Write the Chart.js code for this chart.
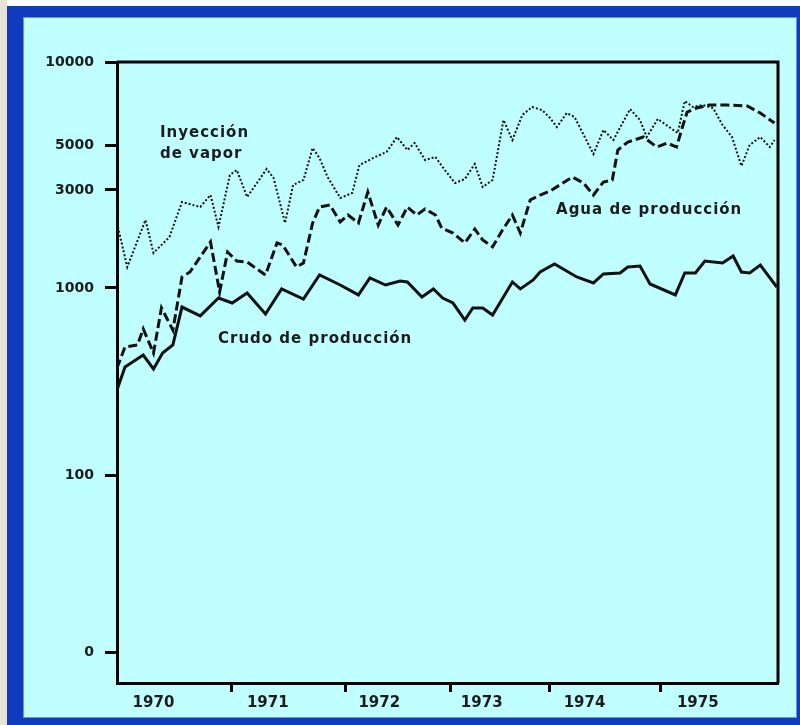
<!DOCTYPE html>
<html>
<head>
<meta charset="utf-8">
<script src="https://cdn.jsdelivr.net/npm/chart.js@4.4.1/dist/chart.umd.min.js"></script>
<style>
  body { margin: 0; background: #fff; }
  canvas { display: block; }
</style>
</head>
<body>
<canvas id="chart" width="800" height="725"></canvas>
<script>
// readings taken off the plot, x in decimal years
const crudoX = [1970.00, 1970.07, 1970.23, 1970.32, 1970.40, 1970.49, 1970.57, 1970.73, 1970.89, 1971.01,
  1971.14, 1971.30, 1971.44, 1971.63, 1971.77, 1971.95, 1972.12, 1972.23, 1972.38, 1972.52,
  1972.59, 1972.73, 1972.84, 1972.93, 1973.03, 1973.15, 1973.23, 1973.33, 1973.43, 1973.63,
  1973.71, 1973.84, 1973.91, 1974.05, 1974.25, 1974.40, 1974.49, 1974.64, 1974.71, 1974.82,
  1974.91, 1975.13, 1975.21, 1975.30, 1975.38, 1975.53, 1975.62, 1975.69, 1975.76, 1975.85, 1975.99];
const crudoY = [285, 378, 438, 369, 449, 496, 791, 709, 884, 831,
  940, 726, 988, 873, 1157, 1034, 918, 1119, 1034, 1082,
  1070, 895, 988, 884, 831, 674, 782, 782, 717, 1070,
  988, 1094, 1196, 1309, 1131, 1058, 1170, 1183, 1265, 1280,
  1046, 918, 1183, 1183, 1353, 1323, 1431, 1196, 1183, 1294, 1011];

const aguaX = [1970.00, 1970.07, 1970.18, 1970.23, 1970.32, 1970.39, 1970.49, 1970.57, 1970.64, 1970.82,
  1970.90, 1970.97, 1971.05, 1971.14, 1971.30, 1971.40, 1971.45, 1971.57, 1971.63, 1971.71,
  1971.77, 1971.86, 1971.95, 1972.02, 1972.12, 1972.21, 1972.31, 1972.39, 1972.50, 1972.59,
  1972.68, 1972.76, 1972.86, 1972.92, 1973.03, 1973.15, 1973.25, 1973.33, 1973.43, 1973.53,
  1973.63, 1973.71, 1973.81, 1973.91, 1974.01, 1974.21, 1974.31, 1974.40, 1974.49, 1974.57,
  1974.62, 1974.71, 1974.85, 1974.97, 1975.06, 1975.14, 1975.19, 1975.23, 1975.31, 1975.42,
  1975.57, 1975.74, 1975.85, 1975.97];
const aguaY = [373, 484, 496, 604, 449, 782, 596, 1131, 1196, 1675,
  952, 1497, 1353, 1338, 1157, 1656, 1619, 1265, 1323, 2072,
  2480, 2535, 2096, 2266, 2072, 2933, 2026, 2480, 2026, 2480,
  2266, 2424, 2266, 1959, 1852, 1656, 1938, 1713, 1584, 1916,
  2266, 1852, 2681, 2836, 2966, 3476, 3247, 2836, 3285, 3360,
  4724, 5127, 5346, 4888, 5085, 4888, 5810, 6585, 6811, 6982,
  6982, 6924, 6531, 6008];

const vaporX = [1970.00, 1970.09, 1970.25, 1970.32, 1970.46, 1970.57, 1970.73, 1970.82, 1970.89, 1970.99,
  1971.05, 1971.14, 1971.31, 1971.37, 1971.47, 1971.54, 1971.63, 1971.71, 1971.77, 1971.84,
  1971.95, 1972.06, 1972.13, 1972.28, 1972.39, 1972.49, 1972.59, 1972.66, 1972.76, 1972.86,
  1972.95, 1973.05, 1973.15, 1973.25, 1973.33, 1973.43, 1973.54, 1973.63, 1973.73, 1973.83,
  1973.93, 1974.01, 1974.07, 1974.16, 1974.23, 1974.40, 1974.49, 1974.58, 1974.73, 1974.82,
  1974.88, 1974.98, 1975.15, 1975.21, 1975.28, 1975.36, 1975.45, 1975.53, 1975.61, 1975.69,
  1975.76, 1975.85, 1975.93, 1975.97];
const vaporY = [2070, 1265, 2143, 1481, 1771, 2621, 2480, 2836, 1982, 3556,
  3765, 2773, 3807, 3438, 2072, 3175, 3360, 4834, 4314, 3476,
  2742, 2900, 3985, 4363, 4618, 5346, 4724, 5085, 4217, 4363,
  3765, 3247, 3399, 4030, 3103, 3360, 6160, 5213, 6424, 6868,
  6695, 6265, 5810, 6531, 6318, 4514, 5668, 5213, 6752, 6160,
  5346, 6213, 5527, 7219, 6868, 6982, 6811, 5908, 5346, 3939,
  5000, 5346, 4888, 5213];

const years = [1970, 1971, 1972, 1973, 1974, 1975];
const yTicks = [10, 100, 1000, 3000, 5000, 10000];

const notes = [
  { text: 'Inyección', x: 1970.377, y: 5527 },
  { text: 'de vapor', x: 1970.377, y: 4514 },
  { text: 'Agua de producción', x: 1974.063, y: 2398 },
  { text: 'Crudo de producción', x: 1970.886, y: 534 },
];

// the original axes are drawn by hand: years and decades are not evenly spaced
const xAnchors = [1970, 1971, 1972, 1973, 1974, 1975, 1976];
const xFractions = [0, 0.1725, 0.3464, 0.5038, 0.6536, 0.8215, 1];
const yAnchors = [6.7, 10, 100, 1000, 3000, 5000, 10000];
const yFractions = [0, 0.0499, 0.3349, 0.6361, 0.7939, 0.8663, 1];
const yLogs = yAnchors.map(Math.log10);

function interp(v, from, to) {
  let i = 0;
  while (i < from.length - 2 && v > from[i + 1]) i++;
  const t = (v - from[i]) / (from[i + 1] - from[i]);
  return to[i] + t * (to[i + 1] - to[i]);
}

class UnevenLinear extends Chart.LinearScale {
  static id = 'unevenLinear';
  getPixelForValue(v) {
    return this.getPixelForDecimal(interp(v, xAnchors, xFractions));
  }
  getValueForPixel(p) {
    return interp(this.getDecimalForPixel(p), xFractions, xAnchors);
  }
}

class UnevenLog extends Chart.LogarithmicScale {
  static id = 'unevenLog';
  getPixelForValue(v) {
    return this.getPixelForDecimal(interp(Math.log10(v), yLogs, yFractions));
  }
  getValueForPixel(p) {
    return Math.pow(10, interp(this.getDecimalForPixel(p), yFractions, yLogs));
  }
}

Chart.register(UnevenLinear, UnevenLog);

const toPoints = (xs, ys) => xs.map((x, i) => ({ x: x, y: ys[i] }));

const LABEL_SHIFT = 0.32; // year labels sit a bit right of each tick
const xTickValues = [];
years.forEach(y => {
  if (y > 1970) xTickValues.push(y);
  xTickValues.push(y + LABEL_SHIFT);
});

// page frame: blue border around a light cyan sheet
const framePlugin = {
  id: 'frame',
  beforeDraw(chart) {
    const ctx = chart.ctx;
    ctx.save();
    ctx.fillStyle = '#ffffff';
    ctx.fillRect(0, 0, 800, 725);
    ctx.fillStyle = '#e7e3d6';
    ctx.fillRect(0, 0, 7, 725);
    ctx.fillStyle = '#0f3bbf';
    ctx.fillRect(7, 6, 793, 719);
    ctx.fillStyle = '#c0ffff';
    ctx.fillRect(23, 17, 774, 701);
    ctx.strokeStyle = '#6f8ee6';
    ctx.lineWidth = 1;
    ctx.strokeRect(23.5, 17.5, 773, 700);
    ctx.restore();
  },
  afterDraw(chart) {
    const { ctx, chartArea } = chart;
    ctx.save();
    ctx.strokeStyle = '#000';
    ctx.lineWidth = 3;
    ctx.beginPath();
    ctx.moveTo(chartArea.left, chartArea.top);
    ctx.lineTo(chartArea.right, chartArea.top);
    ctx.lineTo(chartArea.right, chartArea.bottom);
    ctx.stroke();
    ctx.restore();
  }
};

const notesPlugin = {
  id: 'notes',
  afterDatasetsDraw(chart) {
    const { ctx, scales } = chart;
    ctx.save();
    ctx.font = 'bold 15px "DejaVu Sans"';
    ctx.letterSpacing = '1px';
    ctx.fillStyle = '#1c1c1c';
    ctx.textAlign = 'left';
    ctx.textBaseline = 'middle';
    notes.forEach(n => {
      ctx.fillText(n.text, scales.x.getPixelForValue(n.x), scales.y.getPixelForValue(n.y));
    });
    ctx.restore();
  }
};

new Chart(document.getElementById('chart'), {
  type: 'line',
  data: {
    datasets: [
      {
        label: 'Crudo de producción',
        data: toPoints(crudoX, crudoY),
        borderColor: '#111',
        borderWidth: 3,
      },
      {
        label: 'Agua de producción',
        data: toPoints(aguaX, aguaY),
        borderColor: '#111',
        borderWidth: 3,
        borderDash: [9, 4],
      },
      {
        label: 'Inyección de vapor',
        data: toPoints(vaporX, vaporY),
        borderColor: '#111',
        borderWidth: 2,
        borderDash: [2, 2],
      },
    ],
  },
  options: {
    responsive: false,
    animation: false,
    parsing: true,
    elements: {
      point: { radius: 0 },
      line: { tension: 0, fill: false, borderCapStyle: 'butt' },
    },
    layout: { padding: { top: 62, right: 22, left: 0, bottom: 0 } },
    plugins: {
      legend: { display: false },
      tooltip: { enabled: false },
    },
    scales: {
      x: {
        type: 'unevenLinear',
        min: 1970,
        max: 1976,
        afterBuildTicks: s => { s.ticks = xTickValues.map(v => ({ value: v })); },
        afterFit: s => { s.height = 42; },
        ticks: {
          autoSkip: false,
          maxRotation: 0,
          padding: 2,
          color: '#1c1c1c',
          font: { family: 'DejaVu Sans', size: 15, weight: 'bold' },
          callback: v => Number.isInteger(v) ? '' : String(Math.floor(v)),
        },
        grid: {
          drawOnChartArea: false,
          tickLength: 9,
          tickWidth: 3,
          tickColor: c => Number.isInteger(c.tick.value) ? '#000' : 'rgba(0,0,0,0)',
        },
        border: { color: '#000', width: 3 },
      },
      y: {
        type: 'unevenLog',
        min: 6.7,
        max: 10000,
        afterBuildTicks: s => { s.ticks = yTicks.map(v => ({ value: v })); },
        afterFit: s => { s.width = 117; },
        ticks: {
          padding: 11,
          color: '#1c1c1c',
          font: { family: 'DejaVu Sans', size: 14, weight: 'bold' },
          callback: v => v === 10 ? '0' : String(v),
        },
        grid: {
          drawOnChartArea: false,
          tickLength: 12,
          tickWidth: 3,
          tickColor: '#000',
        },
        border: { color: '#000', width: 3 },
      },
    },
  },
  plugins: [framePlugin, notesPlugin],
});
</script>
</body>
</html>
